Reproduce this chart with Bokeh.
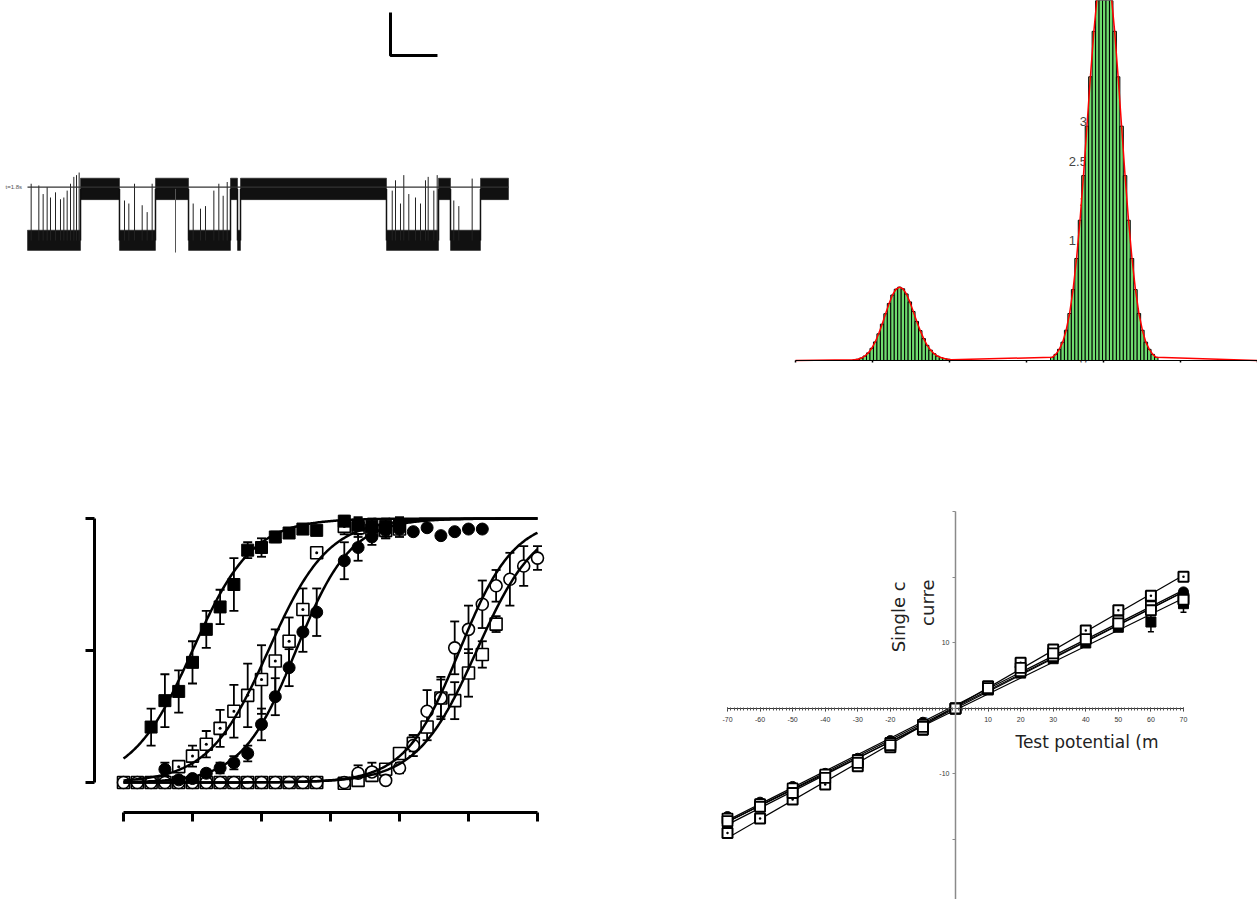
import numpy as np
from bokeh.plotting import figure
from bokeh.layouts import row, column
from bokeh.models import FixedTicker, Range1d
from bokeh.core.properties import value
from bokeh.embed import file_html
from bokeh.resources import INLINE

FONT = "Liberation Sans"
TITLE_FONT = "DejaVu Sans"

# ---------------- Panel A: single-channel recording (time in s, current in pA) ----------------
dwell_start = [0.0, 1.128, 1.957, 2.723, 3.426, 4.319, 4.468, 4.532, 7.638, 8.745, 9.0, 9.638]
dwell_end = [1.128, 1.957, 2.723, 3.426, 4.319, 4.468, 4.532, 7.638, 8.745, 9.0, 9.638, 10.234]
dwell_level = [0, 6, 0, 6, 0, 6, 0, 6, 0, 6, 0, 6]
noise_low = [1.15, 1.25]   # noise band half-width below level (closed, open)
noise_high = [1.2, 1.25]   # noise band half-width above level (closed, open)
spike_t = [0.078, 0.241, 0.333, 0.418, 0.489, 0.596, 0.702, 0.773, 0.844, 0.915, 0.986, 1.043, 1.099,
           2.064, 2.156, 2.277, 2.44, 2.546, 2.652,
           3.525, 3.681, 3.787, 3.965, 4.071, 4.163, 4.249,
           7.76, 7.83, 7.936, 8.006, 8.113, 8.255, 8.362, 8.468, 8.525, 8.645, 8.717,
           9.07, 9.177, 9.461]
spike_top = [6.6, 6.4, 5.4, 6.2, 5.0, 5.6, 4.8, 5.0, 5.8, 6.6, 7.4, 7.6, 7.9,
             4.65, 4.3, 6.6, 4.1, 3.3, 6.6,
             4.3, 3.7, 4.0, 5.8, 6.6, 5.2, 6.8,
             5.8, 7.0, 4.3, 7.6, 5.4, 5.0, 4.3, 7.0, 7.4, 5.8, 7.6,
             4.65, 4.0, 7.2]
down_spike_t = [3.149]
down_spike_bottom = [-1.4]
ref_level = 6.2
ref_label = "t=1.8s"
scalebar_t0 = 7.723
scalebar_len_s = 1.0
scalebar_y0 = 21.51
scalebar_len_pA = 5.0

# ---------------- Panel B: amplitude histogram ----------------
bin_w = 0.045
closed_center = -2.65
closed_k0 = -13
closed_counts = [0.008, 0.016, 0.031, 0.056, 0.095, 0.153, 0.233, 0.335, 0.456, 0.587, 0.715, 0.822,
                 0.894, 0.92, 0.90, 0.835, 0.735, 0.615, 0.49, 0.375, 0.275, 0.19, 0.13, 0.085,
                 0.055, 0.037, 0.025, 0.016, 0.01]
open_center = 0.01
open_k0 = -15
open_counts = [0.04, 0.077, 0.14, 0.23, 0.38, 0.59, 0.89, 1.28, 1.76, 2.32, 2.94, 3.56, 4.13, 4.59,
               4.89, 5.0, 4.89, 4.59, 4.13, 3.56, 2.94, 2.32, 1.76, 1.28, 0.89, 0.59, 0.38, 0.23,
               0.14, 0.077, 0.04]
hist_xticks = [-4, -3, -2, -1, 0, 1, 2]
hist_yticks = [0, 0.5, 1, 1.5, 2, 2.5, 3]
hist_ylabels = ["0", "0.5", "1", "1.5", "2", "2.5", "3"]

# ---------------- Panel C: concentration-response (log M, normalised) ----------------
A_x = [-8.6, -8.4, -8.2, -8.0, -7.8, -7.6, -7.4, -7.2, -7.0, -6.8, -6.6, -6.4, -6.2, -5.8, -5.6, -5.4, -5.2, -5.0]
A_y = [0.21, 0.31, 0.345, 0.455, 0.58, 0.665, 0.75, 0.88, 0.89, 0.93, 0.945, 0.96, 0.955, 0.99, 0.975, 0.97, 0.97, 0.975]
A_e = [0.07, 0.10, 0.08, 0.08, 0.07, 0.065, 0.10, 0.03, 0.035, 0.02, 0.015, 0.015, 0.015, 0.02, 0.03, 0.03, 0.03, 0.03]

B_x = [-8.2, -8.0, -7.8, -7.6, -7.4, -7.2, -7.0, -6.8, -6.6, -6.4, -6.2, -5.8, -5.6, -5.4, -5.2, -5.0]
B_y = [0.06, 0.10, 0.145, 0.205, 0.27, 0.33, 0.39, 0.46, 0.535, 0.655, 0.87, 0.97, 0.965, 0.955, 0.955, 0.96]
B_e = [0.02, 0.04, 0.05, 0.07, 0.10, 0.12, 0.13, 0.12, 0.09, 0.08, 0.02, 0.03, 0.035, 0.03, 0.03, 0.03]

C_x = [-8.4, -8.2, -8.0, -7.8, -7.6, -7.4, -7.2, -7.0, -6.8, -6.6, -6.4, -6.2, -5.8, -5.6, -5.4, -5.2,
       -5.0, -4.8, -4.6, -4.4, -4.2, -4.0, -3.8]
C_y = [0.05, 0.01, 0.015, 0.035, 0.055, 0.075, 0.11, 0.22, 0.325, 0.435, 0.57, 0.645, 0.84, 0.89, 0.93, 0.955,
       0.96, 0.95, 0.965, 0.935, 0.95, 0.96, 0.96]
C_e = [0.025, 0.01, 0.01, 0.015, 0.02, 0.025, 0.03, 0.06, 0.07, 0.07, 0.075, 0.09, 0.07, 0.05, 0.03, 0.03,
       0.0, 0.0, 0.0, 0.0, 0.0, 0.0, 0.0]

D_x = [-9.0, -8.8, -8.6, -8.4, -8.2, -8.0, -7.8, -7.6, -7.4, -7.2, -7.0, -6.8, -6.6, -6.4, -6.2,
       -5.8, -5.6, -5.4, -5.2, -5.0, -4.8, -4.6, -4.4, -4.2, -4.0, -3.8, -3.6, -3.4, -3.2, -3.0]
D_y = [0.0, 0.0, 0.0, 0.0, 0.0, 0.0, 0.0, 0.0, 0.0, 0.0, 0.0, 0.0, 0.0, 0.0, 0.0,
       0.0, 0.035, 0.04, 0.008, 0.055, 0.14, 0.27, 0.32, 0.51, 0.58, 0.675, 0.745, 0.77, 0.82, 0.85]
D_e = [0.005, 0.005, 0.005, 0.005, 0.005, 0.005, 0.005, 0.005, 0.005, 0.005, 0.005, 0.005, 0.005, 0.005, 0.005,
       0.01, 0.03, 0.035, 0.01, 0.02, 0.04, 0.08, 0.08, 0.10, 0.09, 0.09, 0.06, 0.10, 0.075, 0.045]

E_x = [-9.0, -8.8, -8.6, -8.4, -8.2, -8.0, -7.8, -7.6, -7.4, -7.2, -7.0, -6.8, -6.6, -6.4, -6.2,
       -5.8, -5.6, -5.4, -5.2, -5.0, -4.8, -4.6, -4.4, -4.2, -4.0, -3.8, -3.6]
E_y = [0.0, 0.0, 0.0, 0.0, 0.0, 0.0, 0.0, 0.0, 0.0, 0.0, 0.0, 0.0, 0.0, 0.0, 0.0,
       -0.003, 0.008, 0.027, 0.05, 0.11, 0.148, 0.21, 0.32, 0.31, 0.415, 0.485, 0.60]
E_e = [0.005, 0.005, 0.005, 0.005, 0.005, 0.005, 0.005, 0.005, 0.005, 0.005, 0.005, 0.005, 0.005, 0.005, 0.005,
       0.005, 0.01, 0.015, 0.02, 0.02, 0.03, 0.05, 0.07, 0.07, 0.09, 0.05, 0.03]

# Hill fit parameters: (logEC50, Hill slope)
fit_A = (-8.0, 1.0)
fit_B = (-6.9, 1.0)
fit_C = (-6.5, 1.1)
fit_D = (-4.13, 1.1)
fit_E = (-3.88, 1.0)
dose_xticks = [-9, -8, -7, -6, -5, -4, -3]
dose_yticks = [0, 0.5, 1]
dose_xaxis_at = -0.1136

# ---------------- Panel D: single-channel I-V ----------------
V = [-70, -60, -50, -40, -30, -20, -10, 0, 10, 20, 30, 40, 50, 60, 70]
S1 = [-19.0, -16.8, -13.9, -11.6, -8.8, -5.9, -3.2, 0.0, 3.4, 7.0, 9.0, 11.9, 15.0, 17.2, 20.1]
S2 = [-16.5, -14.3, -11.9, -9.9, -7.6, -4.9, -2.1, 0.0, 3.0, 5.9, 8.3, 10.5, 13.0, 16.1, 17.8]
S3 = [-17.6, -14.8, -12.4, -10.2, -7.8, -5.2, -3.3, 0.0, 3.3, 5.4, 7.6, 10.0, 12.4, 13.2, 16.0]
S3_e = [0.4, 0.4, 0.3, 0.3, 0.3, 0.3, 0.3, 0.0, 0.3, 0.3, 0.4, 0.4, 0.5, 1.5, 1.3]
S4 = [-17.2, -15.0, -12.9, -10.6, -8.3, -5.6, -2.8, 0.0, 3.1, 6.2, 8.4, 10.6, 13.0, 15.0, 16.6]
S5 = [-16.8, -14.6, -12.2, -10.1, -7.9, -5.3, -2.5, 0.0, 2.9, 5.7, 8.0, 10.7, 13.4, 15.6, 16.8]
iv_xticks = [-70, -60, -50, -40, -30, -20, -10, 0, 10, 20, 30, 40, 50, 60, 70]
iv_xlabel_ticks = [-70, -60, -50, -40, -30, -20, -10, 10, 20, 30, 40, 50, 60, 70]
iv_xlabels = ["-70", "-60", "-50", "-40", "-30", "-20", "-10", "10", "20", "30", "40", "50", "60", "70"]
iv_yticks = [-30, -20, -10, 0, 10, 20, 30]
iv_ylabels = {-30: "", -20: "", -10: "-10", 0: "", 10: "10", 20: "", 30: ""}
iv_ytitle = ["Single c", "curre"]
iv_xtitle = "Test potential  (m"


def base_fig(w, h, xr, yr, **kw):
    p = figure(width=w, height=h, x_range=Range1d(*xr), y_range=Range1d(*yr),
               output_backend="svg", toolbar_location=None, **kw)
    p.grid.visible = False
    p.outline_line_color = None
    p.background_fill_color = "white"
    p.border_fill_color = "white"
    return p


def blank_labels(axis, ticks):
    axis.major_label_overrides = {t: "" for t in ticks}


# ================= Panel A =================
p1 = base_fig(620, 400, (-0.5745, 12.617), (-14.186, 27.907),
              x_axis_type=None, y_axis_type=None,
              min_border_left=0, min_border_right=0, min_border_top=0, min_border_bottom=38)
bot = [lv - (noise_low[0] if lv == 0 else noise_low[1]) for lv in dwell_level]
top = [lv + (noise_high[0] if lv == 0 else noise_high[1]) for lv in dwell_level]
p1.quad(left=dwell_start, right=dwell_end, bottom=bot, top=top,
        fill_color="#111111", line_color="#111111", line_width=0.5)
bounds_t = dwell_end[:-1]
p1.segment(x0=bounds_t, y0=[0] * len(bounds_t), x1=bounds_t, y1=[6] * len(bounds_t),
           line_color="#111111", line_width=1.5)
p1.segment(x0=spike_t, y0=[0] * len(spike_t), x1=spike_t, y1=spike_top,
           line_color="#222222", line_width=1)
p1.segment(x0=down_spike_t, y0=[6] * len(down_spike_t), x1=down_spike_t, y1=down_spike_bottom,
           line_color="#555555", line_width=1)
p1.segment(x0=[dwell_start[0]], y0=[ref_level], x1=[dwell_end[-1]], y1=[ref_level],
           line_color="#333333", line_width=1.3)
p1.line(x=[scalebar_t0, scalebar_t0, scalebar_t0 + scalebar_len_s],
        y=[scalebar_y0 + scalebar_len_pA, scalebar_y0, scalebar_y0],
        line_color="black", line_width=3)
p1.text(x=[-0.468], y=[ref_level], text=[ref_label], text_font=value(FONT),
        text_font_size="6px", text_color="#555555", text_align="left", text_baseline="middle")

# ================= Panel B =================
p2 = base_fig(637, 400, (-4.0649, 2.0), (-0.0251, 4.517), y_axis_type=None,
              min_border_left=170, min_border_right=0, min_border_top=0, min_border_bottom=38)
closed_x = [closed_center + (closed_k0 + i) * bin_w for i in range(len(closed_counts))]
open_x = [open_center + (open_k0 + i) * bin_w for i in range(len(open_counts))]
p2.text(x=[-0.215] * len(hist_yticks), y=hist_yticks, text=hist_ylabels, text_font=value(FONT),
        text_font_size="13px", text_color="#444444", text_align="right", text_baseline="middle")
p2.vbar(x=closed_x + open_x, top=closed_counts + open_counts, width=bin_w,
        fill_color="#6fdc6f", line_color="black", line_width=1)
fx = [hist_xticks[0]] + closed_x + open_x + [hist_xticks[-1]]
fy = [0] + closed_counts + open_counts + [0]
p2.line(x=fx, y=fy, line_color="red", line_width=1.5)
xa = p2.xaxis[0]
xa.fixed_location = 0
xa.bounds = (hist_xticks[0], hist_xticks[-1])
xa.ticker = FixedTicker(ticks=hist_xticks)
xa.major_tick_out = 8
xa.major_tick_in = 0
xa.minor_tick_out = 0
xa.minor_tick_in = 0
xa.axis_line_width = 1
xa.major_tick_line_width = 1.5
blank_labels(xa, hist_xticks)

# ================= Panel C =================
p3 = base_fig(620, 499, (-9.4203, -2.8116), (-0.4432, 1.0492), x_axis_location="above",
              min_border_left=94, min_border_right=70, min_border_top=105, min_border_bottom=0)
xa3 = p3.xaxis[0]
xa3.fixed_location = dose_xaxis_at
xa3.bounds = (dose_xticks[0], dose_xticks[-1])
xa3.ticker = FixedTicker(ticks=dose_xticks)
xa3.major_tick_out = 0
xa3.major_tick_in = 9
ya3 = p3.yaxis[0]
ya3.bounds = (dose_yticks[0], dose_yticks[-1])
ya3.ticker = FixedTicker(ticks=dose_yticks)
ya3.major_tick_out = 9
ya3.major_tick_in = 0
for ax, ticks in ((xa3, dose_xticks), (ya3, dose_yticks)):
    ax.minor_tick_out = 0
    ax.minor_tick_in = 0
    ax.axis_line_width = 3
    ax.major_tick_line_width = 3
    blank_labels(ax, ticks)

series = [(E_x, E_y, E_e), (D_x, D_y, D_e), (B_x, B_y, B_e), (C_x, C_y, C_e), (A_x, A_y, A_e)]
for sx, sy, se in series:
    lo = [y - e for y, e in zip(sy, se)]
    hi = [y + e for y, e in zip(sy, se)]
    p3.segment(x0=sx, y0=lo, x1=sx, y1=hi, line_color="black", line_width=1.8)
    p3.scatter(x=sx + sx, y=lo + hi, marker="dash", size=9, line_color="black", line_width=1.8)

p3.scatter(E_x, E_y, marker="square", size=12, fill_color="white", line_color="black", line_width=1.6)
p3.scatter(D_x, D_y, marker="circle", size=12, fill_color="white", line_color="black", line_width=1.6)
p3.scatter(B_x, B_y, marker="square_dot", size=12, fill_color="white", line_color="black", line_width=1.6)
p3.scatter(C_x, C_y, marker="circle", size=12, fill_color="black", line_color="black")
p3.scatter(A_x, A_y, marker="square", size=12, fill_color="black", line_color="black")

xs = np.linspace(dose_xticks[0], dose_xticks[-1], 300)
for ec50, n in (fit_A, fit_B, fit_C, fit_D, fit_E):
    p3.line(xs, 1.0 / (1.0 + 10 ** ((ec50 - xs) * n)), line_color="black", line_width=2.5)

# ================= Panel D =================
p4 = base_fig(637, 499, (-72.149, 73.69), (-29.16, 30.99), x_axis_location="above",
              min_border_left=100, min_border_right=62, min_border_top=105, min_border_bottom=0)
xa4 = p4.xaxis[0]
xa4.fixed_location = 0
xa4.bounds = (iv_xticks[0], iv_xticks[-1])
xa4.ticker = FixedTicker(ticks=iv_xticks, minor_ticks=list(range(iv_xticks[0], iv_xticks[-1] + 1)))
xa4.major_tick_out = 1
xa4.major_tick_in = 3
xa4.minor_tick_out = 1
xa4.minor_tick_in = 2
xa4.axis_line_color = "#333333"
xa4.major_tick_line_color = "#333333"
xa4.minor_tick_line_color = "#555555"
blank_labels(xa4, iv_xticks)

ya4 = p4.yaxis[0]
ya4.fixed_location = 0
ya4.bounds = (iv_yticks[0], iv_yticks[-1])
ya4.ticker = FixedTicker(ticks=iv_yticks)
ya4.major_tick_out = 3
ya4.major_tick_in = 0
ya4.minor_tick_out = 0
ya4.minor_tick_in = 0
ya4.axis_line_color = "#8a8a8a"
ya4.axis_line_width = 1.5
ya4.major_tick_line_color = "#8a8a8a"
ya4.major_label_standoff = 3
ya4.major_label_text_font = FONT
ya4.major_label_text_font_size = "7px"
ya4.major_label_text_color = "#333333"
ya4.major_label_overrides = iv_ylabels

p4.text(x=iv_xlabel_ticks, y=[-1.73] * len(iv_xlabel_ticks), text=iv_xlabels, text_font=value(FONT),
        text_font_size="7px", text_color="#333333", text_align="center", text_baseline="middle")

vv = np.array([iv_xticks[0], iv_xticks[-1]], dtype=float)
for s in (S1, S2, S3, S4, S5):
    m, b = np.polyfit(V, s, 1)
    p4.line(vv, m * vv + b, line_color="black", line_width=1.2)

lo3 = [y - e for y, e in zip(S3, S3_e)]
hi3 = [y + e for y, e in zip(S3, S3_e)]
p4.segment(x0=V, y0=lo3, x1=V, y1=hi3, line_color="black", line_width=1.5)
p4.scatter(x=V + V, y=lo3 + hi3, marker="dash", size=6, line_color="black", line_width=1.5)
p4.scatter(V, S2, marker="circle", size=10, fill_color="black", line_color="black")
p4.scatter(V, S3, marker="square", size=10, fill_color="black", line_color="black")
p4.scatter(V, S5, marker="square", size=10, fill_color="white", line_color="black", line_width=1.8)
p4.scatter(V, S5, marker="dash", size=5, line_color="black", line_width=1.8)
p4.scatter(V, S1, marker="square_dot", size=10, fill_color="white", line_color="black", line_width=2)
p4.scatter(V, S4, marker="square", size=10, fill_color="white", line_color="black", line_width=1.8)

p4.text(x=[-17.5, -8.6], y=[19.4, 19.7], text=iv_ytitle, angle=np.pi / 2, text_font=value(TITLE_FONT),
        text_font_size="18px", text_color="#222222", text_align="right", text_baseline="middle")
p4.text(x=[18.4], y=[-5.19], text=[iv_xtitle], text_font=value(TITLE_FONT),
        text_font_size="17px", text_color="#222222", text_align="left", text_baseline="middle")

layout = column(row(p1, p2), row(p3, p4))
open("out.html", "w").write(file_html(layout, INLINE))
